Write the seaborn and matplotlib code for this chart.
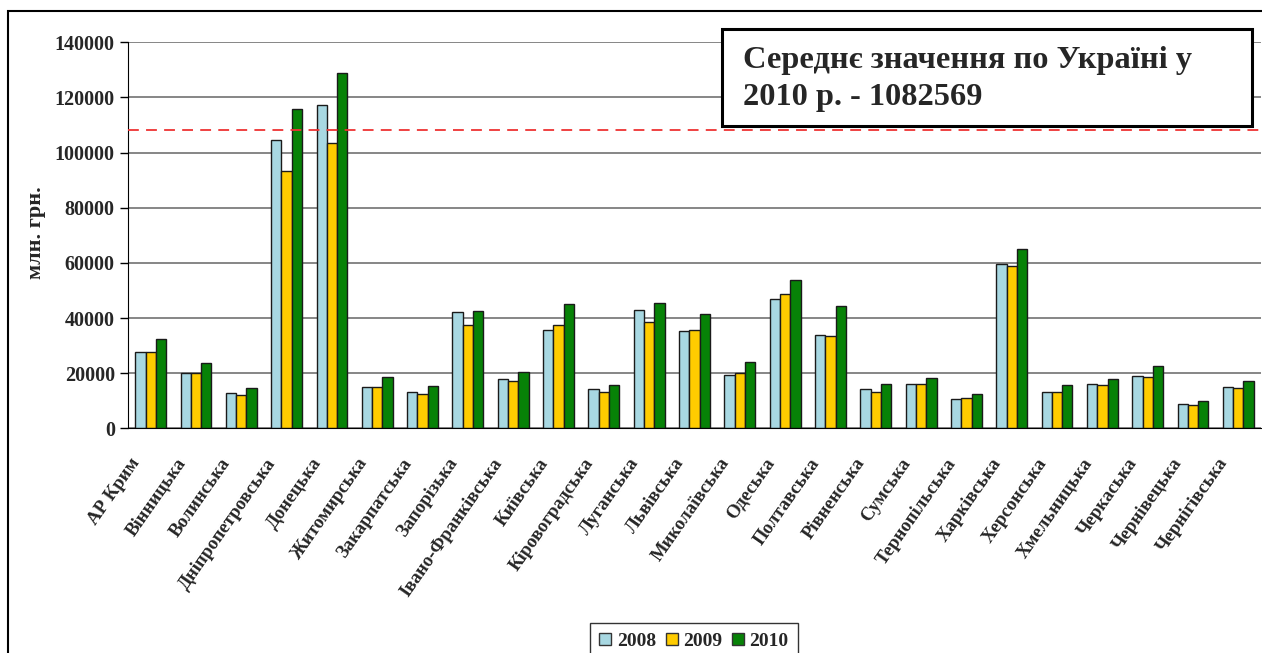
import pandas as pd
import matplotlib
matplotlib.use("Agg")
import matplotlib.pyplot as plt
import matplotlib.patches as mpatches
import matplotlib.transforms as mtransforms
import seaborn as sns

# Regions of Ukraine
regions = ["АР Крим", "Вінницька", "Волинська", "Дніпропетровська", "Донецька",
           "Житомирська", "Закарпатська", "Запорізька", "Івано-Франківська", "Київська",
           "Кіровоградська", "Луганська", "Львівська", "Миколаївська", "Одеська",
           "Полтавська", "Рівненська", "Сумська", "Тернопільська", "Харківська",
           "Херсонська", "Хмельницька", "Черкаська", "Чернівецька", "Чернігівська"]

# values, млн. грн.
v2008 = [27500, 20200, 12900, 104600, 117400, 15000, 13300, 42300, 17900, 35800,
         14300, 43000, 35400, 19500, 46900, 33900, 14300, 16100, 10700, 59600,
         13300, 16100, 19100, 8900, 15000]
v2009 = [27500, 20200, 12200, 93400, 103600, 15000, 12500, 37500, 17200, 37500,
         13300, 38600, 35800, 20200, 48800, 33500, 13300, 16100, 11100, 58900,
         13300, 15700, 18700, 8600, 14600]
v2010 = [32400, 23800, 14700, 115900, 129000, 18700, 15500, 42700, 20500, 45100,
         15700, 45600, 41600, 24200, 53800, 44500, 16100, 18400, 12500, 65100,
         15700, 17900, 22600, 10000, 17300]

years = ["2008", "2009", "2010"]
colors = ["#A8D8E2", "#FFCC00", "#078207"]
avg_ukraine = 108256.9

df = pd.DataFrame({"region": regions * 3,
                   "year": [y for y in years for _ in regions],
                   "value": v2008 + v2009 + v2010})

sns.set_style("white")
plt.rcParams["font.family"] = ["Liberation Serif", "DejaVu Serif"]
plt.rcParams["font.weight"] = "bold"

W, H = 1262, 653
fig = plt.figure(figsize=(W / 100, H / 100), dpi=100)
ax = fig.add_axes([128 / W, 1 - 428.3 / H, (1261 - 128) / W, (428.3 - 42.3) / H])

sns.barplot(data=df, x="region", y="value", hue="year", palette=colors,
            width=0.68, gap=0, edgecolor="#1a1a1a", linewidth=1.0,
            saturation=1, ax=ax, legend=False)

ax.set_ylim(0, 140000)
ax.set_xlim(-0.5, len(regions) - 0.5)
ax.set_yticks(range(0, 140001, 20000))
ax.set_yticklabels([str(v) for v in range(0, 140001, 20000)], fontsize=14.5, fontweight="bold")
ax.yaxis.grid(True, color="#666666", linewidth=1.1)
ax.set_axisbelow(True)

ax.axhline(avg_ukraine, color="#ee3333", linestyle=(0, (6, 4)), linewidth=1.3, zorder=5)

ax.set_xticks(range(len(regions)))
ax.set_xticklabels(regions, rotation=55, ha="right", rotation_mode="anchor",
                   fontsize=13.5, fontweight="bold")
ax.tick_params(axis="x", length=0, pad=12)
shift = mtransforms.ScaledTranslation(-21 / 100, -10 / 100, fig.dpi_scale_trans)
for lbl in ax.get_xticklabels():
    lbl.set_transform(lbl.get_transform() + shift)
ax.set_xticks([i - 0.5 for i in range(len(regions) + 1)], minor=True)
ax.tick_params(axis="x", which="minor", length=6, width=1, color="#555555", direction="out")
ax.tick_params(axis="y", length=6, width=1, color="black", direction="out", left=True)

ax.set_xlabel("")
ax.set_ylabel("млн. грн.", fontsize=16, fontweight="bold")
ax.yaxis.set_label_coords(46 / W, 1 - 233 / H, transform=fig.transFigure)

for s in ["top", "right"]:
    ax.spines[s].set_visible(False)
ax.spines["left"].set_color("black")
ax.spines["bottom"].set_color("black")

# Text box with the average value
fig.patches.append(mpatches.Rectangle((722 / W, 1 - 126 / H), (1252 - 722) / W, (126 - 29) / H,
                                      transform=fig.transFigure, facecolor="white",
                                      edgecolor="black", linewidth=2.2, zorder=10))
fig.text(743 / W, 1 - 79 / H,
         "Середнє значення по Україні у\n2010 р. - 1082569",
         fontsize=23.3, fontweight="bold", ha="left", va="center", linespacing=1.33, zorder=11)

# Legend
handles = [mpatches.Patch(facecolor=c, edgecolor="#333333", label=y) for c, y in zip(colors, years)]
fig.legend(handles=handles, loc="upper center", bbox_to_anchor=(694 / W, 1 - 623 / H), ncol=3,
           frameon=True, fancybox=False, edgecolor="black", borderaxespad=0,
           handlelength=0.62, handleheight=0.62, handletextpad=0.28, columnspacing=0.5,
           borderpad=0.5, prop={"weight": "bold", "size": 14})

# Outer chart frame
fig.patches.append(mpatches.Rectangle((8 / W, -0.1), 1.2, 1.1 - 11 / H, transform=fig.transFigure,
                                      fill=False, edgecolor="black", linewidth=1.5))

fig.savefig("out.png", dpi=100)
